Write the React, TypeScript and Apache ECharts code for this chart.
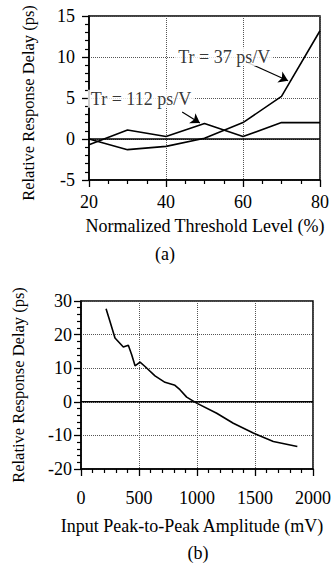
import React, { useEffect, useRef } from "react";
import * as echarts from "echarts";

const thresholdLevels = [20, 30, 40, 50, 60, 70, 80];
const delayTr112 = [-0.7, 1.1, 0.3, 1.9, 0.3, 2.0, 2.0];
const delayTr37 = [0, -1.3, -0.9, 0.1, 2.0, 5.2, 13.2];

const amplitudes = [216, 250, 293, 365, 408, 437, 466, 509, 552, 638, 724, 810, 853, 911, 997, 1170, 1313, 1485, 1658, 1865];
const amplitudeDelay = [27.7, 23.9, 19.0, 16.3, 16.8, 14.0, 10.7, 11.8, 10.5, 7.7, 5.8, 4.9, 3.6, 1.4, -0.4, -3.4, -6.4, -9.3, -11.8, -13.3];

const rangeA = [20, 80];
const rangeB = [0, 2000];

const labelTr37 = "Tr = 37 ps/V";
const labelTr112 = "Tr = 112 ps/V";
const annotationPoints = [
  { text: labelTr112, at: [33.5, 4.9] },
  { text: labelTr37, at: [55.1, 10.0] },
];
const arrowSegments = [
  [[61.3, 9.3], [71.7, 7.1]],
  [[44.2, 3.3], [48.8, 1.95]],
];
const titleA = "Normalized Threshold Level (%)";
const titleB = "Input Peak-to-Peak Amplitude (mV)";
const yTitle = "Relative Response Delay (ps)";

const FONT = '"Liberation Serif", "Times New Roman", serif';
const FS = 18;

const plain = (v: number) => String(v);

function axisCommon(extra: any) {
  return {
    type: "value",
    axisLine: { show: true, onZero: false, lineStyle: { color: "#000", width: 1.5 } },
    axisTick: { show: true, inside: false, length: 7, lineStyle: { color: "#000", width: 1.3 } },
    minorTick: { show: true, splitNumber: 5, length: 4, lineStyle: { color: "#000", width: 1.2 } },
    splitLine: { show: true, lineStyle: { type: "dotted", color: "#555", width: 1 } },
    ...extra,
  };
}

export default function App() {
  const ref = useRef<HTMLDivElement>(null);
  useEffect(() => {
    const chart = echarts.init(ref.current!, null, { renderer: "svg" });
    const blackLine = { color: "#000", width: 1.6 };
    const txt = (text: string, x: number, y: number, size: number, rotation = 0) => ({
      type: "text", x, y, rotation, silent: true,
      style: { text, font: `${size}px ${FONT}`, fill: "#000", textAlign: "center", textVerticalAlign: "middle" },
    });
    chart.setOption({
      animation: false,
      grid: [
        { left: 89, top: 16, width: 231, height: 164, show: true, borderColor: "#000", borderWidth: 1.5, outerBoundsMode: "none", containLabel: false },
        { left: 81, top: 301, width: 232, height: 168, show: true, borderColor: "#000", borderWidth: 1.5, outerBoundsMode: "none", containLabel: false },
      ],
      xAxis: [
        axisCommon({
          gridIndex: 0, min: 20, max: 80, interval: 20,
          minorTick: { show: true, splitNumber: 4, length: 4, lineStyle: { color: "#000", width: 1.2 } },
          axisLabel: { fontFamily: FONT, fontSize: FS, color: "#000", margin: 13, formatter: plain },
        }),
        axisCommon({
          gridIndex: 1, min: 0, max: 2000, interval: 500,
          axisLabel: { fontFamily: FONT, fontSize: FS, color: "#000", margin: 20, formatter: plain },
        }),
      ],
      yAxis: [
        axisCommon({
          gridIndex: 0, min: -5, max: 15, interval: 5,
          axisLabel: { fontFamily: FONT, fontSize: FS, color: "#000", margin: 14, formatter: plain },
        }),
        axisCommon({
          gridIndex: 1, min: -20, max: 30, interval: 10,
          axisLabel: { fontFamily: FONT, fontSize: FS, color: "#000", margin: 9, formatter: plain },
        }),
      ],
      series: [
        {
          type: "line", xAxisIndex: 0, yAxisIndex: 0, symbol: "none", silent: true,
          data: rangeA.map((x) => [x, 0]),
          lineStyle: { color: "#000", width: 1.5 },
        },
        {
          type: "line", xAxisIndex: 1, yAxisIndex: 1, symbol: "none", silent: true,
          data: rangeB.map((x) => [x, 0]),
          lineStyle: { color: "#000", width: 1.5 },
        },
        {
          type: "line", xAxisIndex: 0, yAxisIndex: 0, symbol: "none",
          data: thresholdLevels.map((x, i) => [x, delayTr112[i]]),
          lineStyle: blackLine,
        },
        {
          type: "line", xAxisIndex: 0, yAxisIndex: 0, symbol: "none",
          data: thresholdLevels.map((x, i) => [x, delayTr37[i]]),
          lineStyle: blackLine,
        },
        {
          type: "lines", coordinateSystem: "cartesian2d", xAxisIndex: 0, yAxisIndex: 0, silent: true,
          symbol: ["none", "arrow"], symbolSize: 9,
          lineStyle: { color: "#000", width: 1.2, opacity: 1, curveness: 0 },
          itemStyle: { color: "#000" },
          data: arrowSegments.map((seg) => ({ coords: seg })),
          z: 4,
        },
        {
          type: "scatter", xAxisIndex: 0, yAxisIndex: 0, symbolSize: 0, silent: true,
          data: annotationPoints.map((a) => ({ value: a.at, name: a.text })),
          label: {
            show: true, position: "inside", formatter: (p: any) => p.name,
            color: "#000", fontFamily: FONT, fontSize: FS, backgroundColor: "#fff", padding: [0, 3],
          },
          z: 5,
        },
        {
          type: "line", xAxisIndex: 1, yAxisIndex: 1, symbol: "none",
          data: amplitudes.map((x, i) => [x, amplitudeDelay[i]]),
          lineStyle: blackLine,
        },
      ],
      graphic: [
        txt(yTitle, 28, 103, 16.5, Math.PI / 2),
        txt(yTitle, 18, 385, 16.5, Math.PI / 2),
        txt(titleA, 205, 226, FS),
        txt(titleB, 192, 526, FS),
        txt("(a)", 165, 254, FS),
        txt("(b)", 198, 553, FS),
      ],
    });
    return () => chart.dispose();
  }, []);
  return <div ref={ref} style={{ position: "absolute", left: 0, top: 0, width: 333, height: 565, background: "#fff" }} />;
}
